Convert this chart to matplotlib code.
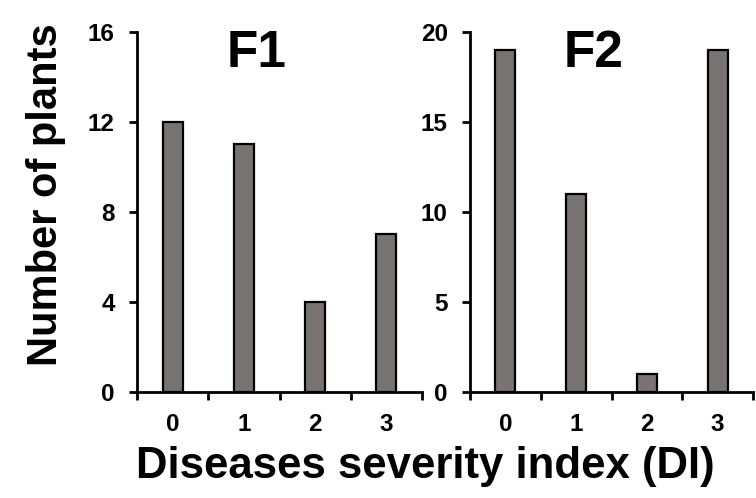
#!/usr/bin/env python3
import matplotlib
matplotlib.use('Agg')
import matplotlib.pyplot as plt
import numpy as np

plt.rcParams['font.family'] = ['Liberation Sans', 'DejaVu Sans']
plt.rcParams['font.weight'] = 'bold'

categories = ['0', '1', '2', '3']
f1_counts = [12, 11, 4, 7]
f2_counts = [19, 11, 1, 19]
f1_yticks = [0, 4, 8, 12, 16]
f2_yticks = [0, 5, 10, 15, 20]

BAR_COLOR = '#787370'


def draw_panel(ax, counts, yticks, title, title_x):
    x = np.arange(len(categories))
    ax.bar(x, counts, width=0.28, color=BAR_COLOR, edgecolor='black', linewidth=1.6)
    ax.set_xlim(-0.5, len(categories) - 0.5)
    ax.set_ylim(yticks[0], yticks[-1])
    ax.set_yticks(yticks)
    ax.set_yticklabels([str(t) for t in yticks], fontsize=17.5, fontweight='bold')
    # ticks sit between categories, labels in the middle
    ax.set_xticks(np.arange(len(categories) + 1) - 0.5)
    ax.set_xticklabels([])
    ax.set_xticks(x, minor=True)
    ax.set_xticklabels(categories, minor=True, fontsize=17.5, fontweight='bold')
    ax.tick_params(axis='x', which='major', direction='out', length=6, width=2)
    ax.tick_params(axis='x', which='minor', length=0, pad=15)
    ax.tick_params(axis='y', direction='out', length=6, width=2, pad=10)
    for side in ('top', 'right'):
        ax.spines[side].set_visible(False)
    for side in ('left', 'bottom'):
        ax.spines[side].set_linewidth(2)
    ax.text(title_x, 0.94, title, transform=ax.transAxes, ha='center', va='center',
            fontsize=37, fontweight='bold')


fig = plt.figure(figsize=(7.56, 4.98), dpi=100)
W, H = 756.0, 498.0
ax1 = fig.add_axes([137 / W, (H - 392) / H, 285 / W, 360 / H])
ax2 = fig.add_axes([470 / W, (H - 392) / H, 283 / W, 360 / H])

draw_panel(ax1, f1_counts, f1_yticks, 'F1', 0.42)
draw_panel(ax2, f2_counts, f2_yticks, 'F2', 0.435)

fig.text(46 / W, 1 - 195 / H, 'Number of plants', rotation=90, ha='center', va='center',
         fontsize=30, fontweight='bold')
fig.text(425 / W, 1 - 466 / H, 'Diseases severity index (DI)', ha='center', va='center',
         fontsize=31.5, fontweight='bold')

fig.savefig('out.png', dpi=100)
